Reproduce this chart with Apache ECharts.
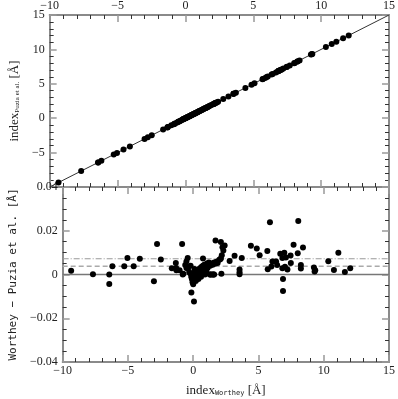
<!DOCTYPE html>
<html>
<head>
<meta charset="utf-8">
<script src="https://cdn.jsdelivr.net/npm/echarts@6/dist/echarts.min.js"></script>
<style>
  html, body { margin: 0; padding: 0; background: #fff; }
  #chart { width: 398px; height: 399px; }
</style>
</head>
<body>
<div id="chart"></div>
<script>
// index measured with the Worthey definition [Å]
const indexWorthey = [
  -9.35, -7.68, -6.43, -6.43, -6.19, -5.28, -5.04, -4.56, -4.09, -3.01,
  -2.77, -2.48, -1.64, -1.33, -1.29, -1.04, -0.85, -0.80, -0.61, -0.52,
  -0.42, -0.40, -0.20, -0.14, 0.06, -0.76, -0.52, -1.31,
  -0.30, -0.20, -0.15, -0.10, -0.05, 0.00, 0.05, 0.10, 0.15, 0.20,
  0.25, 0.30, 0.35, 0.40, 0.45, 0.50, 0.55, 0.60, 0.65, 0.70,
  0.75, 0.80, 0.85, 0.90, 0.95, 1.00, 1.05, 1.10, 1.15, 1.20,
  1.30, 1.40, 1.50, 1.60, 1.70, 1.80, 0.30, 0.50, 0.60, 0.10,
  0.00, 0.20, 0.90, 1.30, 1.50, 1.60, 0.40, 0.70, 1.00, 0.75,
  1.28, 1.40, 1.57, 1.87, 2.00, 2.07, 2.16,
  1.71, 2.12, 2.24, 2.31, 2.19, 2.12, 2.41, 2.79, 3.17, 3.72,
  3.55, 3.55, 3.55, 4.42, 4.87, 5.09, 5.68, 5.88, 5.71, 5.99,
  6.07, 6.35, 6.43, 6.67, 6.83, 6.88, 6.88, 6.83, 6.98, 7.03,
  7.10, 7.22, 7.46, 7.48, 7.69, 8.01, 8.05, 8.25, 8.25, 8.41,
  9.25, 9.30, 9.35, 10.35, 10.78, 11.12, 11.62, 12.03
];
// Worthey - Puzia et al. [Å]
const diffIndex = [
  0.0017, 0.0001, 0.0000, -0.0043, 0.0038, 0.0038, 0.0075, 0.0038, 0.0072, -0.0031,
  0.0140, 0.0069, 0.0029, 0.0053, 0.0020, 0.0020, 0.0140, 0.0000, 0.0044, 0.0059,
  0.0075, 0.0026, 0.0040, -0.0082, -0.0123, 0.0003, 0.0030, 0.0030,
  0.0010, 0.0005, -0.0010, -0.0020, -0.0035, -0.0010, 0.0005, -0.0015, 0.0010, 0.0000,
  0.0015, 0.0005, 0.0020, 0.0010, 0.0025, 0.0015, 0.0030, 0.0020, 0.0035, 0.0025,
  0.0040, 0.0030, 0.0045, 0.0035, 0.0020, 0.0040, 0.0050, 0.0030, 0.0045, 0.0055,
  0.0040, 0.0050, 0.0045, 0.0055, 0.0050, 0.0060, -0.0010, 0.0000, -0.0010, 0.0025,
  -0.0045, -0.0030, 0.0000, 0.0000, 0.0000, 0.0000, -0.0020, 0.0005, 0.0015, 0.0073,
  0.0000, 0.0000, 0.0000, 0.0053, 0.0068, 0.0070, 0.0003,
  0.0155, 0.0149, 0.0125, 0.0110, 0.0088, 0.0073, 0.0133, 0.0062, 0.0086, 0.0075,
  0.0023, 0.0010, 0.0001, 0.0131, 0.0119, 0.0088, 0.0108, 0.0239, 0.0024, 0.0037,
  0.0059, 0.0059, 0.0043, 0.0095, 0.0029, -0.0020, -0.0075, 0.0075, 0.0100, 0.0035,
  0.0078, 0.0023, 0.0087, 0.0053, 0.0136, 0.0097, 0.0245, 0.0043, 0.0027, 0.0123,
  0.0032, 0.0014, 0.0020, 0.0061, 0.0021, 0.0100, 0.0012, 0.0029
];
const oneToOne = [-10, 15];
const zeroLevel = 0;
const meanLevel = 0.0038;
const rmsLevel = 0.0072;
const xTickLabels = ['−10', '−5', '0', '5', '10', '15'];
const topYTickLabels = ['−5', '0', '5', '10', '15'];
const topYTickValues = [-5, 0, 5, 10, 15];
const botYTickLabels = ['−0.04', '−0.02', '0', '0.02', '0.04'];
const botYTickValues = [-0.04, -0.02, 0, 0.02, 0.04];

const puziaIndex = indexWorthey.map((x, i) => x - diffIndex[i]);

const font = 'Liberation Serif';
const frame = { show: true, onZero: false, lineStyle: { color: '#8a8a8a', width: 2 } };
const majorTick = { show: true, inside: true, length: 7, lineStyle: { color: '#999', width: 1.5 } };
const minorTick = { show: true, splitNumber: 5, length: 4, lineStyle: { color: '#333', width: 1 } };
const lbl = { color: '#222', fontFamily: font, fontSize: 12, hideOverlap: false };

function xAx(grid, pos, showLabel) {
  return {
    type: 'value', gridIndex: grid, position: pos, min: -10, max: 15, interval: 5,
    axisLine: frame, axisTick: majorTick, minorTick: minorTick, splitLine: { show: false },
    axisLabel: Object.assign({ show: showLabel, margin: 3, showMinLabel: true, showMaxLabel: true,
      formatter: v => xTickLabels[Math.round((v + 10) / 5)] }, lbl)
  };
}
function hLine(level, style) {
  return {
    type: 'line', xAxisIndex: 2, yAxisIndex: 2, symbol: 'none', silent: true,
    data: oneToOne.map(x => [x, level]), lineStyle: style, z: 1
  };
}
const chart = echarts.init(document.getElementById('chart'));
chart.setOption({
  animation: false,
  grid: [
    { left: 43, top: 14, width: 348, height: 173 },
    { left: 43, top: 187, width: 348, height: 175 }
  ],
  xAxis: [
    xAx(0, 'top', true),
    xAx(0, 'bottom', false),
    Object.assign(xAx(1, 'bottom', true), {
      name: '{m|index}{s|Worthey}{m| [Å]}', nameLocation: 'middle', nameGap: 22,
      nameTextStyle: { rich: { m: { fontFamily: font, fontSize: 13, color: '#222' },
        s: { fontFamily: 'DejaVu Sans Mono', fontSize: 7, color: '#222', verticalAlign: 'bottom', padding: [6, 0, 0, 0] } } }
    }),
    xAx(1, 'top', false)
  ],
  yAxis: [
    {
      type: 'value', gridIndex: 0, position: 'left', min: -10, max: 15, interval: 5,
      axisLine: frame, axisTick: majorTick, minorTick: minorTick, splitLine: { show: false },
      axisLabel: Object.assign({ margin: 5, customValues: topYTickValues,
        formatter: v => topYTickLabels[topYTickValues.indexOf(v)] }, lbl),
      name: '{m|index}{s|Puzia et al.}{m| [Å]}', nameLocation: 'middle', nameGap: 27,
      nameTextStyle: { rich: { m: { fontFamily: font, fontSize: 13, color: '#222' },
        s: { fontFamily: font, fontSize: 7, color: '#222', padding: [6, 0, 0, 0] } } }
    },
    {
      type: 'value', gridIndex: 0, position: 'right', min: -10, max: 15, interval: 5,
      axisLine: frame, axisTick: majorTick, minorTick: minorTick, splitLine: { show: false },
      axisLabel: { show: false }
    },
    {
      type: 'value', gridIndex: 1, position: 'left', min: -0.04, max: 0.04, interval: 0.02,
      axisLine: frame, axisTick: majorTick, minorTick: Object.assign({}, minorTick, { splitNumber: 4 }),
      splitLine: { show: false },
      axisLabel: Object.assign({ margin: 5, customValues: botYTickValues,
        formatter: v => botYTickLabels[Math.round((v + 0.04) / 0.02)] }, lbl),
      name: 'Worthey − Puzia et al. [Å]', nameLocation: 'middle', nameGap: 31,
      nameTextStyle: { fontFamily: 'DejaVu Sans Mono', fontSize: 11, color: '#222' }
    },
    {
      type: 'value', gridIndex: 1, position: 'right', min: -0.04, max: 0.04, interval: 0.02,
      axisLine: frame, axisTick: majorTick, minorTick: Object.assign({}, minorTick, { splitNumber: 4 }),
      splitLine: { show: false }, axisLabel: { show: false }
    }
  ],
  series: [
    {
      type: 'line', xAxisIndex: 0, yAxisIndex: 0, symbol: 'none',
      data: oneToOne.map(v => [v, v]),
      lineStyle: { color: '#333', width: 1 }, z: 1
    },
    {
      type: 'scatter', xAxisIndex: 0, yAxisIndex: 0, symbolSize: 6,
      itemStyle: { color: '#000', opacity: 1 },
      data: indexWorthey.map((x, i) => [x, puziaIndex[i]]), z: 3
    },
    hLine(zeroLevel, { color: '#777', width: 1.5, type: 'solid' }),
    hLine(meanLevel, { color: '#aaa', width: 1.5, type: [5, 3] }),
    hLine(rmsLevel, { color: '#999', width: 1, type: [6, 2, 1, 2] }),
    {
      type: 'scatter', xAxisIndex: 2, yAxisIndex: 2, symbolSize: 6,
      itemStyle: { color: '#000', opacity: 1 },
      data: indexWorthey.map((x, i) => [x, diffIndex[i]]), z: 3
    }
  ]
});
</script>
</body>
</html>
